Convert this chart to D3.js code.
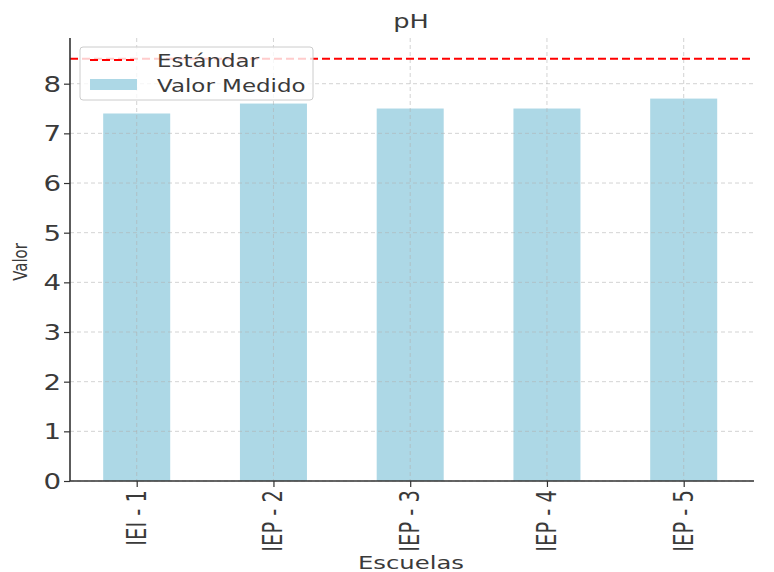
<!DOCTYPE html>
<html><head><meta charset="utf-8">
<script src="https://cdn.jsdelivr.net/npm/d3@7"></script>
<style>body{margin:0;background:#fff}svg{display:block}text{font-family:"DejaVu Sans",sans-serif;fill:#3a3a3a}</style>
</head><body>
<svg id="c" width="774" height="572"></svg>
<script>
const categories = ["IEI - 1","IEP - 2","IEP - 3","IEP - 4","IEP - 5"];
const values = [7.4, 7.6, 7.5, 7.5, 7.7];
const standard = 8.5;
const yTicks = [0,1,2,3,4,5,6,7,8];
const title = "pH", xLabel = "Escuelas", yLabel = "Valor";
const legendLabels = ["Estándar","Valor Medido"];

const SX = 1.35; // horizontal stretch of the reference's text
const svg = d3.select("#c");
const L = 70, R = 754, T = 38, B = 481;
const x = d3.scaleLinear().domain([0,4]).range([136.7,683.7]);
const y = d3.scaleLinear().domain([0,8.92]).range([B,T]);
const step = x(1)-x(0), bw = step*0.49;

// bars
svg.append("g").selectAll("rect").data(values).join("rect")
  .attr("x",(d,i)=>x(i)-bw/2).attr("y",d=>y(d))
  .attr("width",bw).attr("height",d=>B-y(d)).attr("fill","#add8e6");

// grid
const g = svg.append("g").attr("stroke","#b0b0b0").attr("stroke-opacity",0.7).attr("stroke-width",0.8).attr("stroke-dasharray","4,3");
g.selectAll(".h").data(yTicks).join("line").attr("x1",L).attr("x2",R).attr("y1",d=>y(d)).attr("y2",d=>y(d));
g.selectAll(".v").data(categories).join("line").attr("x1",(d,i)=>x(i)).attr("x2",(d,i)=>x(i)).attr("y1",T).attr("y2",B);

// standard line
svg.append("line").attr("x1",L).attr("x2",R).attr("y1",y(standard)).attr("y2",y(standard))
  .attr("stroke","#ff0000").attr("stroke-width",2).attr("stroke-dasharray","8,4");

// axes
const ya = svg.append("g").attr("transform",`translate(${L},0)`)
  .call(d3.axisLeft(y).tickValues(yTicks).tickSize(6).tickFormat(d3.format("d")));
const xa = svg.append("g").attr("transform",`translate(0,${B})`)
  .call(d3.axisBottom(x).tickValues(d3.range(categories.length)).tickSize(6).tickFormat(i=>categories[i]));
[ya,xa].forEach(a=>{a.select(".domain").attr("stroke","#333").attr("stroke-width",1.6);
  a.selectAll(".tick line").attr("stroke","#333").attr("stroke-width",1.2);
  a.selectAll("text").attr("font-size",20.5).attr("fill","#3a3a3a");});
xa.selectAll("text").attr("font-size",19.5);
xa.select(".domain").attr("d",`M${L},0H${R}`);
ya.select(".domain").attr("d",`M0,${T}V${B}`);
ya.selectAll(".tick text").attr("x",0).attr("dy","0.36em").attr("text-anchor","end")
  .attr("transform",`translate(-9,0) scale(${SX},1)`);
xa.selectAll(".tick text").attr("x",0).attr("y",0).attr("dy","0.36em").attr("text-anchor","end")
  .attr("transform",`translate(-1,9) scale(${SX},1) rotate(-90)`);

// labels
svg.append("text").attr("transform",`translate(411,28) scale(${SX},1)`).attr("text-anchor","middle").attr("font-size",19).text(title);
svg.append("text").attr("transform",`translate(411,568.5) scale(${SX},1)`).attr("text-anchor","middle").attr("font-size",18).text(xLabel);
svg.append("text").attr("transform",`translate(20,262) scale(${SX},1) rotate(-90)`).attr("dy","0.36em").attr("text-anchor","middle").attr("font-size",15).text(yLabel);

// legend
const lg = svg.append("g");
lg.append("rect").attr("x",80).attr("y",47).attr("width",233).attr("height",53).attr("rx",3)
  .attr("fill","#fff").attr("fill-opacity",0.8).attr("stroke","#ccc").attr("stroke-width",1);
lg.append("line").attr("x1",90).attr("x2",137).attr("y1",60).attr("y2",60)
  .attr("stroke","#ff0000").attr("stroke-width",2).attr("stroke-dasharray","8,4");
lg.append("rect").attr("x",90).attr("y",79).attr("width",47).attr("height",11).attr("fill","#add8e6");
lg.append("text").attr("transform",`translate(157,66.5) scale(${SX},1)`).attr("font-size",17).text(legendLabels[0]);
lg.append("text").attr("transform",`translate(157,91.5) scale(${SX},1)`).attr("font-size",17).text(legendLabels[1]);
</script>
</body></html>
